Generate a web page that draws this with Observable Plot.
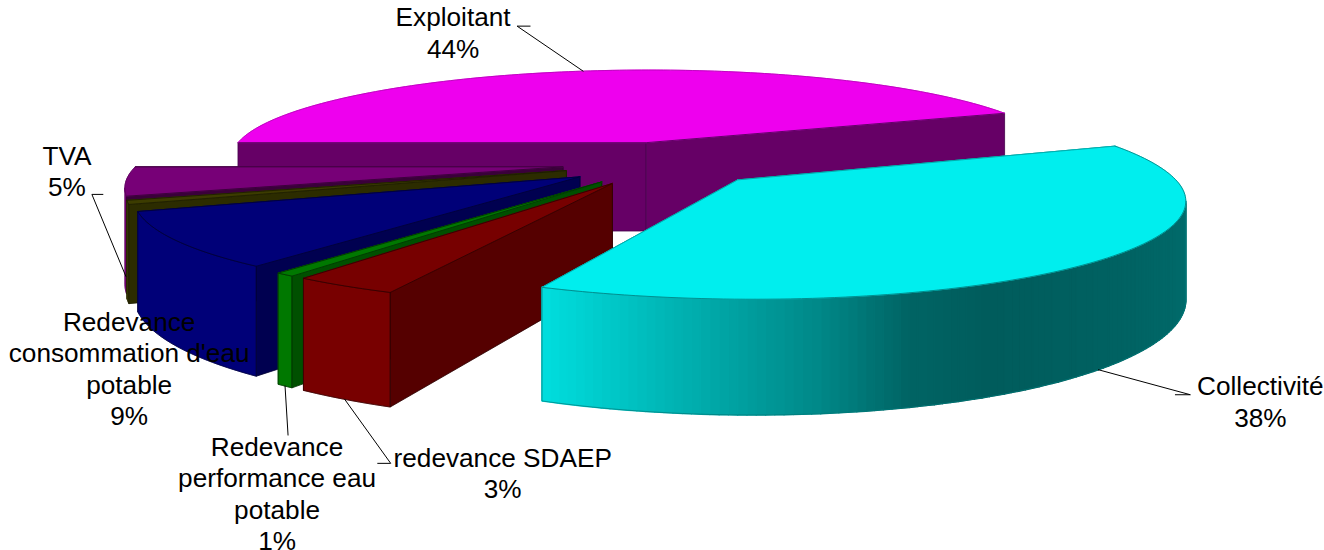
<!DOCTYPE html>
<html>
<head>
<meta charset="utf-8">
<style>html,body{margin:0;padding:0;background:#fff}svg{display:block}</style>
<script src="https://cdn.jsdelivr.net/npm/d3@7"></script>
<script src="https://cdn.jsdelivr.net/npm/@observablehq/plot@0.6"></script>
</head>
<body>
<script>
// Data, clockwise from the Exploitant slice
const categories = ["Exploitant", "Collectivité", "redevance SDAEP", "Redevance\nperformance eau\npotable", "Redevance\nconsommation d'eau\npotable", "", "TVA"];
const shares = [44, 37.55, 3.28, 0.6, 9.1, 0.65, 4.82];

// Slice colours
const topColors = ["#ee00ee", "#00eeee", "#770000", "#007800", "#000078", "#3c3c00", "#770077"];
const faceColors = ["#660066", "#006666", "#550000", "#005000", "#000050", "#2c2c00", "#3a003a"];
const wallColors = ["#660066", null, "#780000", "#007800", "#000078", "#3c3c00", "#770077"];
const edgeColors = ["#44004a", "#00a0a0", "#2a0000", "#003000", "#000030", "#1c1c00", "#300030"];
const arcColors = ["#b400b4", "#007a7a", "#2a0000", "#003000", "#000030", "#1c1c00", "#5a005a"];
const wallShadeAngles = [-115, -107, -96, -83, -73, -63, -48, -15, 22];
const wallShadeColors = ["#00e2e2", "#00cccc", "#00acac", "#008888", "#006464", "#005c5c", "#006060", "#006c6c", "#006c6c"];

// Layout of the projected pie; slices are painted back to front
const cx = 664, cy = 163, R = 425, Ry = 92, k = 0.175, H = 92, explode = 0.24, startAngle = 180;
const paintOrder = [0, 6, 5, 4, 3, 2, 1];
// Label block centre relative to its leader anchor, and leader elbows relative to the label centre
const labelOffsets = [[-130, -39], [162, 31], [158, 73], [-8, 107], [-47, 22], [0, 0], [-59, -106]];
const leaderElbows = [[[77, -6], [64, -6]], [[-85, -6], [-70, -6]], [[-125, -9], [-112, -9]], [[11, -58]], null, null, [[36, 24], [25, 24]]];

const rad = d => d * Math.PI / 180;
const project = (u, v, z = 0) => {
  const s = 1 / (1 - k * v);
  return [cx + R * u * s, cy + Ry * v * s + H * z * s];
};
const shade = d3.scaleLinear().domain(wallShadeAngles).range(wallShadeColors).clamp(true);

const rows = [];
let nextId = 0;
const addPolygon = (pts, fill, stroke, strokeWidth = 0.8) => {
  const id = nextId++;
  pts.forEach(([x, y]) => rows.push({id, x, y, fill, stroke, strokeWidth}));
};
const closed = pts => [...pts, pts[0]];

const total = d3.sum(shares);
let cursor = startAngle;
const slices = shares.map((value, i) => {
  const a1 = cursor, a2 = cursor - value / total * 360;
  cursor = a2;
  const mid = (a1 + a2) / 2;
  const apex = [explode * Math.cos(rad(mid)), -explode * Math.sin(rad(mid))];
  return {i, a1, a2, mid, apex};
});
const rim = (s, a) => [s.apex[0] + Math.cos(rad(a)), s.apex[1] - Math.sin(rad(a))];
const faces = (u, v, nu, nv) => nu * (0 - u) + nv * (1 / k - v) > 0;

paintOrder.map(i => slices[i]).forEach(s => {
  const {i, a1, a2, apex} = s;
  const radial = a => {
    const [u, v] = rim(s, a);
    return closed([project(apex[0], apex[1]), project(u, v), project(u, v, 1), project(apex[0], apex[1], 1)]);
  };
  const n1 = [Math.cos(rad(a1 + 90)), -Math.sin(rad(a1 + 90))];
  const n2 = [Math.cos(rad(a2 - 90)), -Math.sin(rad(a2 - 90))];
  const vis1 = faces(apex[0], apex[1], n1[0], n1[1]);
  const vis2 = faces(apex[0], apex[1], n2[0], n2[1]);
  if (!vis1) addPolygon(radial(a1), faceColors[i], faceColors[i]);
  if (!vis2) addPolygon(radial(a2), faceColors[i], faceColors[i]);
  // curved wall: narrow strips that overlap slightly so no seams show
  const n = Math.max(2, Math.ceil(a1 - a2));
  const angles = d3.range(n + 1).map(j => a1 + (a2 - a1) * j / n);
  const seen = a => {
    const [u, v] = rim(s, a);
    return faces(u, v, Math.cos(rad(a)), -Math.sin(rad(a)));
  };
  const shown = [];
  for (let j = 0; j < n; j++) {
    const p = angles[j], q = angles[j + 1];
    if (!seen((p + q) / 2)) continue;
    if (!shown.length) shown.push(p);
    shown.push(q);
  }
  if (shown.length) {
    const upper = shown.map(a => { const [u, v] = rim(s, a); return project(u, v); });
    const lower = shown.map(a => { const [u, v] = rim(s, a); return project(u, v, 1); }).reverse();
    if (wallColors[i]) {
      addPolygon(closed([...upper, ...lower]), wallColors[i], wallColors[i], 0.6);
    } else {
      d3.pairs(shown).forEach(([p, q]) => {
        const [pu, pv] = rim(s, p), [qu, qv] = rim(s, q);
        const c = shade((p + q) / 2);
        addPolygon(closed([project(pu, pv), project(qu, qv), project(qu, qv, 1), project(pu, pv, 1)]), c, c, 1.5);
      });
    }
    addPolygon(closed([...upper, ...lower]), "none", arcColors[i], 0.7);
  }
  if (vis1) addPolygon(radial(a1), faceColors[i], edgeColors[i]);
  if (vis2) addPolygon(radial(a2), faceColors[i], edgeColors[i]);
  const steps = Math.ceil((a1 - a2) / 1.2);
  const arc = d3.range(steps + 1).map(j => {
    const a = a1 + (a2 - a1) * j / steps;
    const [u, v] = rim(s, a);
    return project(u, v);
  });
  const center = project(apex[0], apex[1]);
  addPolygon(closed([center, ...arc]), topColors[i], topColors[i]);
  addPolygon([arc[0], center, arc[arc.length - 1]], "none", edgeColors[i]);
  addPolygon(arc, "none", arcColors[i]);
});

// Labels and leaders, anchored on the rim of each slice at its mid angle
const labels = [], leaders = [];
slices.forEach(s => {
  if (!categories[s.i]) return;
  const [u, v] = rim(s, s.mid);
  const back = Math.sin(rad(s.mid)) > 0;
  const anchor = project(u, v, back ? 0 : 1);
  const [dx, dy] = labelOffsets[s.i];
  const lx = anchor[0] + dx, ly = anchor[1] + dy;
  labels.push({x: lx, y: ly, text: `${categories[s.i]}\n${Math.round(shares[s.i])}%`});
  if (leaderElbows[s.i]) {
    [anchor, ...[...leaderElbows[s.i]].reverse().map(([ex, ey]) => [lx + ex, ly + ey])]
      .forEach(([x, y]) => leaders.push({id: s.i, x, y}));
  }
});

const chart = Plot.plot({
  width: 1324, height: 550,
  margin: 0,
  x: {axis: null, domain: [0, 1324], range: [0, 1324]},
  y: {axis: null, domain: [0, 550], range: [0, 550]},
  marks: [
    Plot.line(rows, {x: "x", y: "y", z: "id", fill: "fill", stroke: "stroke", strokeWidth: "strokeWidth", strokeLinejoin: "round"}),
    Plot.line(leaders, {x: "x", y: "y", z: "id", stroke: "#000", strokeWidth: 1}),
    Plot.text(labels, {x: "x", y: "y", text: "text", fill: "#000", fontSize: 26.2, lineHeight: 1.2, fontFamily: "Liberation Sans, Arial, sans-serif", textAnchor: "middle"})
  ]
});
document.body.appendChild(chart);
</script>
</body>
</html>
